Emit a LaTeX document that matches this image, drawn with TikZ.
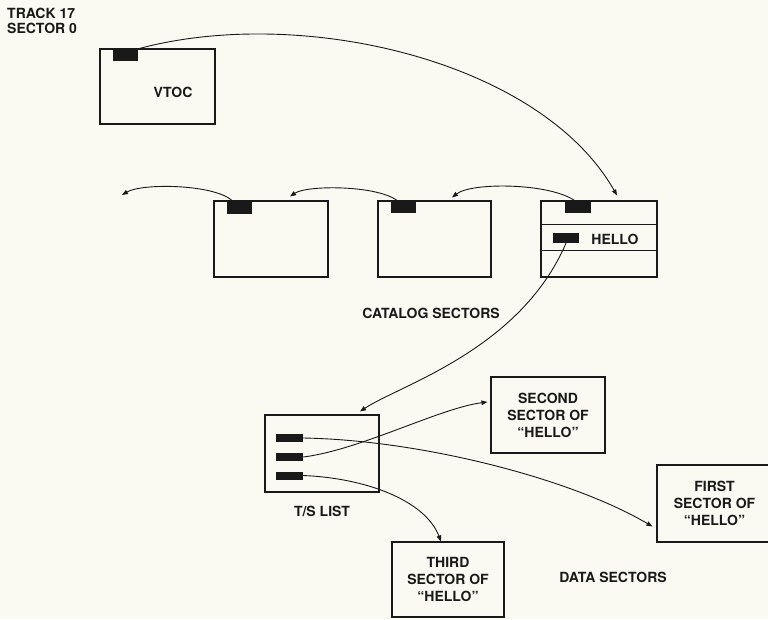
\documentclass[tikz,border=0pt]{standalone}
\usepackage{fontspec}
\setmainfont{TeX Gyre Heros}
\usetikzlibrary{arrows.meta}
\definecolor{paper}{RGB}{250,250,243}
\definecolor{ink}{RGB}{25,25,25}
\tikzset{
  sbox/.style={draw=ink, line width=1.1pt, inner sep=0pt, rectangle},
  stab/.style={fill=ink, draw=none, inner sep=0pt, minimum width=25pt, minimum height=12pt},
  lbl/.style={font=\fontsize{14}{17}\selectfont\bfseries, text=ink, align=center, inner sep=0pt},
  link/.style={draw=ink, line width=0.9pt, -{Triangle[length=6pt,width=4.5pt]}},
  plain/.style={draw=ink, line width=0.9pt}
}
\begin{document}
\begin{tikzpicture}[x=1pt,y=-1pt]
\fill[paper] (0,0) rectangle (768,619);
\useasboundingbox (0,0) rectangle (768,619);
\begin{scope}
\clip (0,0) rectangle (768,619);
% labels
\node[lbl, align=left, anchor=west] (trk) at (7,20.5) {TRACK 17\\[-2pt]SECTOR 0};
% VTOC
\node[sbox, minimum width=115pt, minimum height=75pt] (vtoc) at (157.5,86.5) {};
\node[stab] (vtab) at (125.5,55) {};
\node[lbl] (vtoclbl) at (173,92) {VTOC};
% catalog sectors
\node[sbox, minimum width=114pt, minimum height=76pt] (c1) at (271,239) {};
\node[stab, minimum height=13pt] (tab1) at (239.5,207.5) {};
\node[sbox, minimum width=113pt, minimum height=76pt] (c2) at (434.5,239) {};
\node[stab] (tab2) at (403.5,207) {};
\node[sbox, minimum width=116pt, minimum height=76pt] (c3) at (599,239) {};
\node[stab, minimum width=26pt] (tab3) at (578,207) {};
\draw[line width=1.1pt, draw=ink] ([yshift=-24pt]c3.north west) -- ([yshift=-24pt]c3.north east);
\draw[line width=1.1pt, draw=ink] ([yshift=-50pt]c3.north west) -- ([yshift=-50pt]c3.north east);
\node[stab, minimum width=26pt, minimum height=10pt] (htab) at (566,238) {};
\node[lbl] (hello) at (615,239.5) {HELLO};
\node[lbl] (catlbl) at (431,313) {CATALOG SECTORS};
% T/S list
\node[sbox, minimum width=114pt, minimum height=77pt] (ts) at (322,453.5) {};
\node[stab, minimum width=27pt, minimum height=8pt] (ts1) at (289.5,438) {};
\node[stab, minimum width=27pt, minimum height=8pt] (ts2) at (289.5,457) {};
\node[stab, minimum width=27pt, minimum height=8pt] (ts3) at (289.5,475.5) {};
\node[lbl] (tslbl) at (322,511) {T/S LIST};
% data sectors
\node[sbox, lbl, minimum width=114pt, minimum height=76pt] (second) at (548,415) {SECOND\\SECTOR OF\\``HELLO''};
\node[sbox, lbl, minimum width=115pt, minimum height=77pt] (first) at (714.5,503.5) {FIRST\\SECTOR OF\\``HELLO''};
\node[sbox, lbl, minimum width=112pt, minimum height=75pt] (third) at (448,579.5) {THIRD\\SECTOR OF\\``HELLO''};
\node[lbl] (datalbl) at (613,577) {DATA SECTORS};
% endpoints
\coordinate (c3in) at ([xshift=18pt,yshift=5pt]c3.north);
\coordinate (c2in) at ([xshift=17.5pt,yshift=3pt]c2.north);
\coordinate (c1in) at ([xshift=19pt,yshift=4pt]c1.north);
\coordinate (free) at (122,195);
\coordinate (tsin) at ([xshift=38pt,yshift=3pt]ts.north);
\coordinate (secin) at ([xshift=-3pt,yshift=13pt]second.west);
\coordinate (firstin) at ([xshift=-4pt,yshift=-23pt]first.west);
\coordinate (thirdin) at ([xshift=-7pt]third.north);
% connectors
\draw[link] (vtab.north east) .. controls (300,5) and (540,60) .. (c3in);
\draw[link] ([xshift=-3pt]tab3.north) .. controls (550,183) and (472,182) .. (c2in);
\draw[link] ([xshift=-6pt]tab2.north) .. controls (377,185) and (307,185) .. (c1in);
\draw[link] ([xshift=-7pt]tab1.north) .. controls (214,184) and (142,183) .. (free);
\draw[link] (htab.south) .. controls (520,350) and (400,385) .. (tsin);
\draw[link] (ts1.east) .. controls (420,440) and (570,478) .. (firstin);
\draw[link] (ts2.east) .. controls (360,450) and (440,408) .. (secin);
\draw[link] (ts3.east) .. controls (365,478) and (425,500) .. (thirdin);
\end{scope}
\end{tikzpicture}
\end{document}
